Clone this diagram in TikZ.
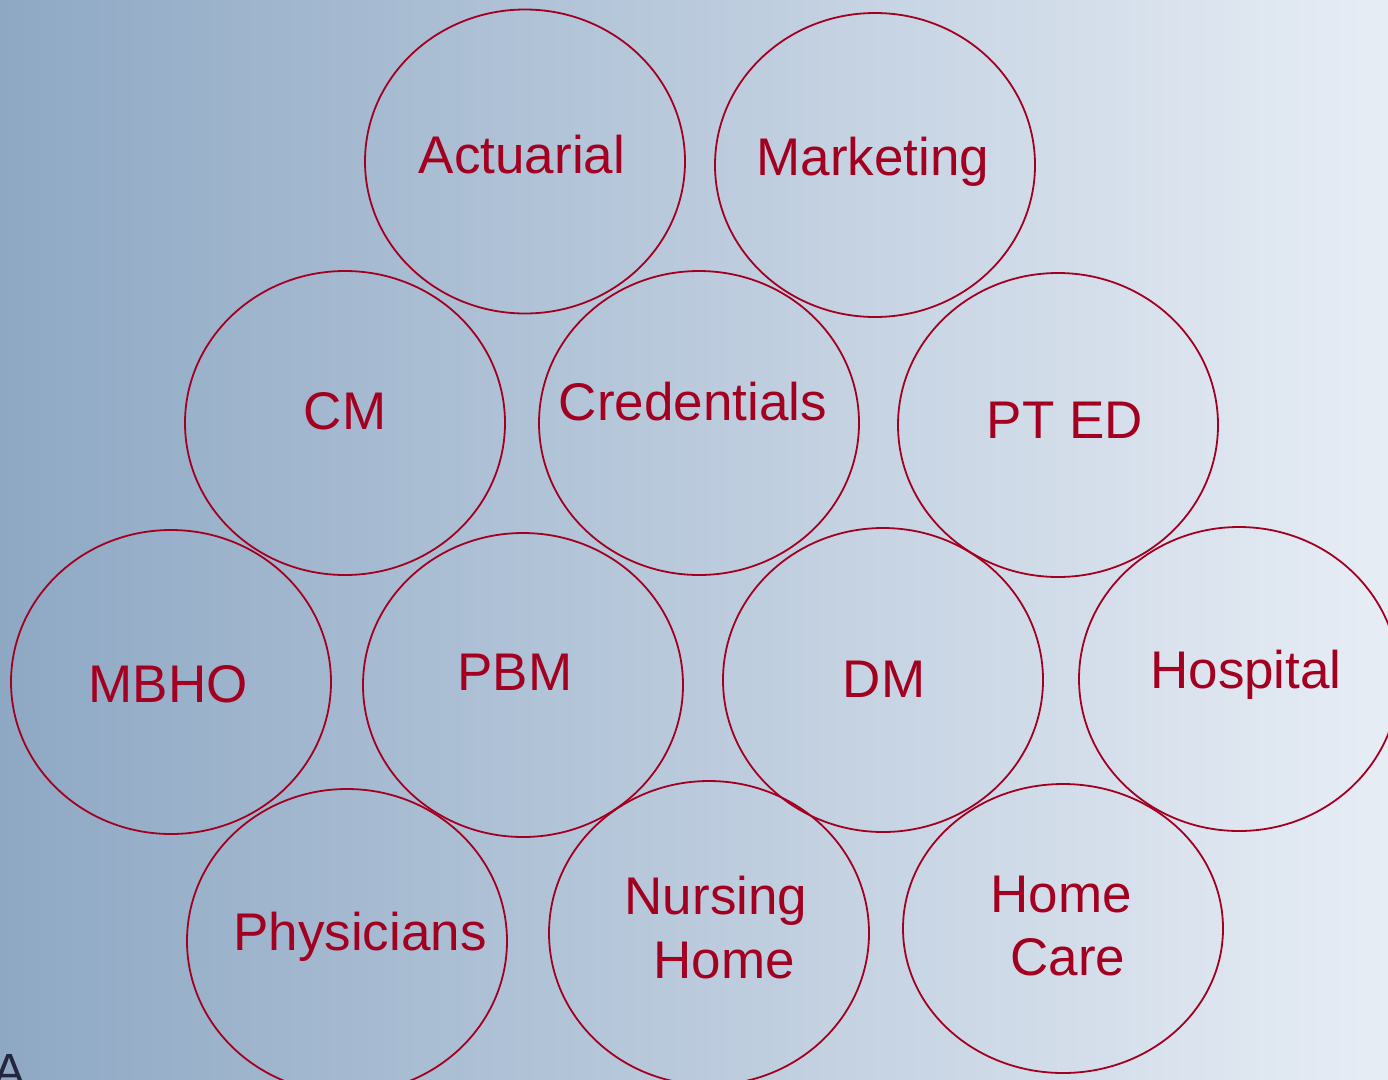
\documentclass[tikz,border=0pt]{standalone}
\usepackage{fontspec}
\setmainfont{Liberation Sans}
\usetikzlibrary{shapes.geometric}
\definecolor{bgleft}{RGB}{142,168,196}
\definecolor{bgright}{RGB}{231,237,245}
\definecolor{dred}{RGB}{163,0,33}
\definecolor{navy}{RGB}{35,38,60}
\tikzset{
  ell/.style={ellipse, draw=dred, line width=1.8pt, minimum width=320pt, minimum height=304pt, inner sep=0pt},
  lbl/.style={anchor=base, text=dred, font=\fontsize{53}{63}\selectfont, inner sep=0pt}
}
\begin{document}
\begin{tikzpicture}[x=1pt,y=-1pt]
\useasboundingbox (0,0) rectangle (1388,1079);
\clip (0,0) rectangle (1388,1079);
\shade[left color=bgleft, right color=bgright] (0,0) rectangle (1388,1079);
% ellipses
\node[ell] (eact) at (525,161.5) {};
\node[ell] (emkt) at (875,165) {};
\node[ell] (ecm) at (345,423) {};
\node[ell] (ecred) at (699,423) {};
\node[ell] (epted) at (1058,425) {};
\node[ell] (embho) at (171,682) {};
\node[ell] (epbm) at (523,685) {};
\node[ell] (edm) at (883,680) {};
\node[ell] (ehosp) at (1239,679) {};
\node[ell] (ephys) at (347,941) {};
\node[ell] (enh) at (709,933) {};
\node[ell, minimum height=289pt] (ehc) at (1063,928.5) {};
% labels
\node[lbl] (tact) at (522,173) {Actuarial};
\node[lbl] (tmkt) at (873,175) {Marketing};
\node[lbl] (tcm) at (345,429) {CM};
\node[lbl] (tcred) at (693,420) {Credentials};
\node[lbl] (tpted) at (1065,438) {PT ED};
\node[lbl] (tmbho) at (168,702) {MBHO};
\node[lbl] (tpbm) at (515,690) {PBM};
\node[lbl] (tdm) at (884,697) {DM};
\node[lbl] (thosp) at (1246,688) {Hospital};
\node[lbl] (tphys) at (360,950) {Physicians};
\node[lbl] (tnh1) at (716,914) {Nursing};
\node[lbl] (tnh2) at (724,978) {Home};
\node[lbl] (thc1) at (1061,912) {Home};
\node[lbl] (thc2) at (1068,975) {Care};
% stray glyph at bottom-left (cut off by the lower edge, as in the reference)
\node[anchor=base, text=navy, font=\fontsize{48}{56}\selectfont, inner sep=0pt] (stray) at (10,1087) {A};
\end{tikzpicture}
\end{document}
